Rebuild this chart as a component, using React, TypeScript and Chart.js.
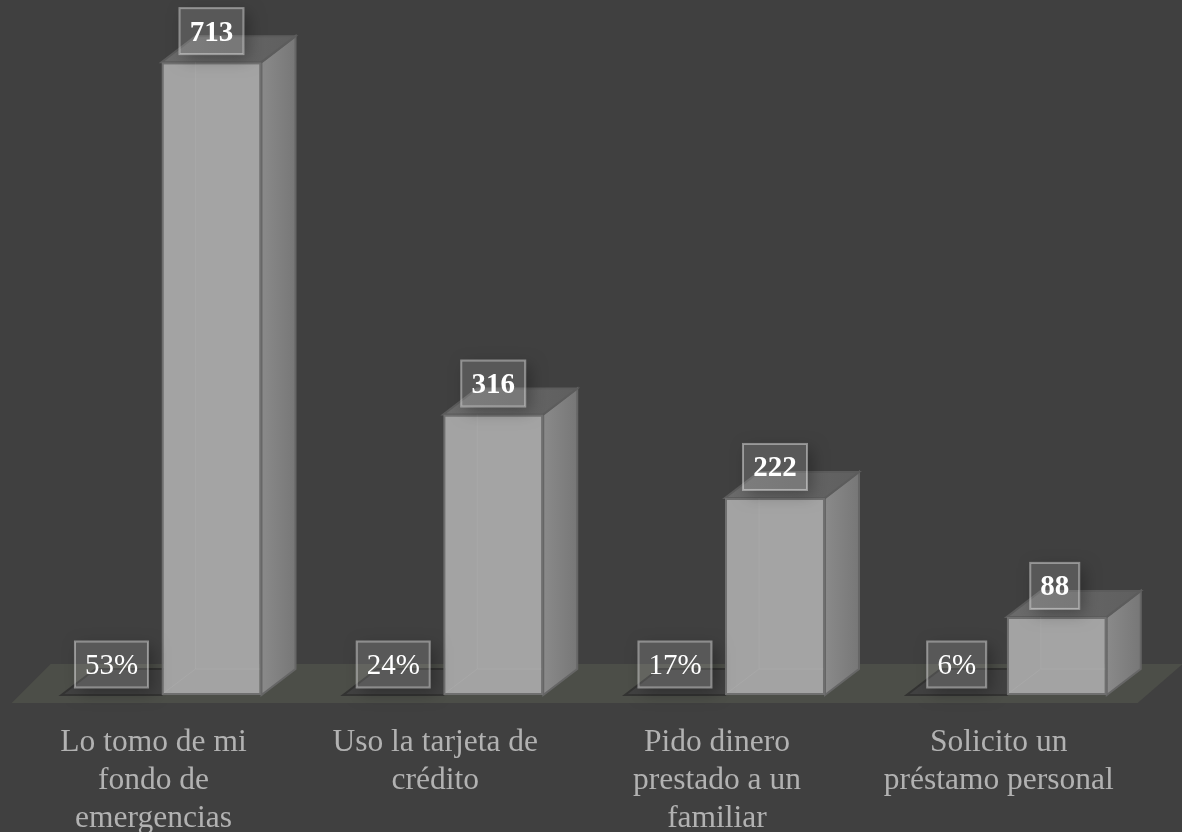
import React, { useEffect, useRef } from "react";
import { Chart, registerables } from "chart.js";

Chart.register(...registerables);

const categories = [
  ["Lo tomo de mi", "fondo de", "emergencias"],
  ["Uso la tarjeta de", "crédito"],
  ["Pido dinero", "prestado a un", "familiar"],
  ["Solicito un", "préstamo personal"],
];
const counts = [713, 316, 222, 88];
const percents = [53, 24, 17, 6];

const DX = 34;
const DY = 26;
const FONT = '"Liberation Serif", serif';

function poly(ctx: CanvasRenderingContext2D, pts: number[][]) {
  ctx.beginPath();
  pts.forEach((p, i) => (i ? ctx.lineTo(p[0], p[1]) : ctx.moveTo(p[0], p[1])));
  ctx.closePath();
}

function labelBox(ctx: CanvasRenderingContext2D, cx: number, cy: number, text: string, weight: string) {
  ctx.save();
  ctx.font = `${weight} 29px ${FONT}`;
  const w = Math.round(ctx.measureText(text).width) + 20;
  const h = 46;
  const x = cx - w / 2;
  const y = cy - h / 2;
  ctx.save();
  ctx.beginPath();
  ctx.rect(0, 0, 1182, 832);
  ctx.rect(x, y, w, h);
  ctx.clip("evenodd");
  ctx.shadowColor = "rgba(0,0,0,0.3)";
  ctx.shadowBlur = 16;
  ctx.shadowOffsetX = 5;
  ctx.shadowOffsetY = 5;
  ctx.fillStyle = "#000";
  ctx.fillRect(x, y, w, h);
  ctx.restore();
  ctx.fillStyle = "rgba(255,255,255,0.13)";
  ctx.fillRect(x, y, w, h);
  ctx.strokeStyle = "rgba(255,255,255,0.42)";
  ctx.lineWidth = 2;
  ctx.strokeRect(x, y, w, h);
  ctx.fillStyle = "#fff";
  ctx.textAlign = "center";
  ctx.textBaseline = "middle";
  ctx.fillText(text, cx, cy + 2);
  ctx.restore();
}

const box3d = {
  id: "box3d",
  beforeDatasetsDraw(chart: any) {
    const ctx: CanvasRenderingContext2D = chart.ctx;
    const base = chart.scales.y.getPixelForValue(0);
    const left = chart.chartArea.left;
    const right = chart.chartArea.right;
    // floor
    ctx.fillStyle = "#4c4e48";
    poly(ctx, [
      [left - 9, base + 8],
      [right - 10, base + 8],
      [right + 35, base - 31],
      [left + 30, base - 31],
    ]);
    ctx.fill();
    // plates under the percentage labels
    chart.getDatasetMeta(0).data.forEach((b: any) => {
      const x0 = b.x - b.width / 2;
      const x1 = b.x + b.width / 2;
      ctx.fillStyle = "#414141";
      poly(ctx, [
        [x0, base],
        [x1, base],
        [x1 + DX, base - DY],
        [x0 + DX, base - DY],
      ]);
      ctx.fill();
      ctx.strokeStyle = "#333332";
      ctx.lineWidth = 2;
      ctx.stroke();
    });
    // side and top faces of the count bars
    chart.getDatasetMeta(1).data.forEach((b: any) => {
      const x0 = b.x - b.width / 2;
      const x1 = b.x + b.width / 2;
      const top = b.y;
      const side = ctx.createLinearGradient(x1, 0, x1 + DX, 0);
      side.addColorStop(0, "#8a8a8a");
      side.addColorStop(1, "#777777");
      ctx.fillStyle = side;
      ctx.strokeStyle = "#666";
      ctx.lineWidth = 2;
      poly(ctx, [
        [x1, top],
        [x1 + DX, top - DY],
        [x1 + DX, base - DY],
        [x1, base],
      ]);
      ctx.fill();
      ctx.stroke();
      const t = ctx.createLinearGradient(x0, 0, x1 + DX, 0);
      t.addColorStop(0, "#6b6b6b");
      t.addColorStop(1, "#5f5f5f");
      ctx.fillStyle = t;
      poly(ctx, [
        [x0, top],
        [x1, top],
        [x1 + DX, top - DY],
        [x0 + DX, top - DY],
      ]);
      ctx.fill();
      ctx.strokeStyle = "#5c5c5c";
      ctx.stroke();
    });
  },
  afterDatasetsDraw(chart: any) {
    const ctx: CanvasRenderingContext2D = chart.ctx;
    const base = chart.scales.y.getPixelForValue(0);
    // see-through inner edges of each bar
    chart.getDatasetMeta(1).data.forEach((b: any) => {
      const x0 = b.x - b.width / 2;
      const x1 = b.x + b.width / 2;
      const top = b.y;
      ctx.fillStyle = "rgba(255,255,255,0.02)";
      ctx.fillRect(x0 + DX, top + 1, x1 - x0 - DX - 1, base - DY - top);
      ctx.strokeStyle = "rgba(255,255,255,0.06)";
      ctx.lineWidth = 1;
      ctx.beginPath();
      ctx.moveTo(x0 + DX, top);
      ctx.lineTo(x0 + DX, base - DY);
      ctx.lineTo(x1 - 1, base - DY);
      ctx.moveTo(x0 + DX, base - DY);
      ctx.lineTo(x0 + 1, base - 1);
      ctx.stroke();
    });
    chart.getDatasetMeta(0).data.forEach((b: any, i: number) => {
      labelBox(ctx, b.x, base - 30.5, `${percents[i]}%`, "normal");
    });
    chart.getDatasetMeta(1).data.forEach((b: any, i: number) => {
      labelBox(ctx, b.x - (i === 3 ? 2 : 0), b.y - 31, String(counts[i]), "bold");
    });
  },
};

export default function App() {
  const ref = useRef<HTMLCanvasElement>(null);
  useEffect(() => {
    document.body.style.margin = "0";
    document.body.style.background = "#404040";
    const chart = new Chart(ref.current!, {
      type: "bar",
      data: {
        labels: categories,
        datasets: [
          {
            label: "Porcentaje",
            data: percents,
            yAxisID: "yPct",
            backgroundColor: "rgba(0,0,0,0)",
            borderWidth: 0,
          },
          {
            label: "Respuestas",
            data: counts,
            yAxisID: "y",
            backgroundColor: "#a3a3a3",
            borderColor: "#6f6f6f",
            borderWidth: 2,
            borderSkipped: false,
          },
        ],
      },
      options: {
        responsive: false,
        animation: false,
        events: [],
        layout: { padding: { left: 20.6, right: 34.4, top: 0, bottom: 0 } },
        datasets: { bar: { barPercentage: 1, categoryPercentage: 0.71 } },
        plugins: { legend: { display: false }, tooltip: { enabled: false } },
        scales: {
          x: {
            border: { display: false },
            grid: { display: false },
            afterFit(scale: any) {
              scale.height = 137;
            },
            ticks: {
              color: "#b2b2b2",
              padding: 21,
              maxRotation: 0,
              autoSkip: false,
              labelOffset: -8,
              font: { family: FONT, size: 31.5, lineHeight: 1.2 },
            },
          },
          y: { display: false, min: 0, max: 783 },
          yPct: { display: false, min: 0, max: 1000000 },
        },
      },
      plugins: [box3d],
    } as any);
    return () => chart.destroy();
  }, []);
  return <canvas ref={ref} width={1182} height={832} style={{ display: "block" }} />;
}
